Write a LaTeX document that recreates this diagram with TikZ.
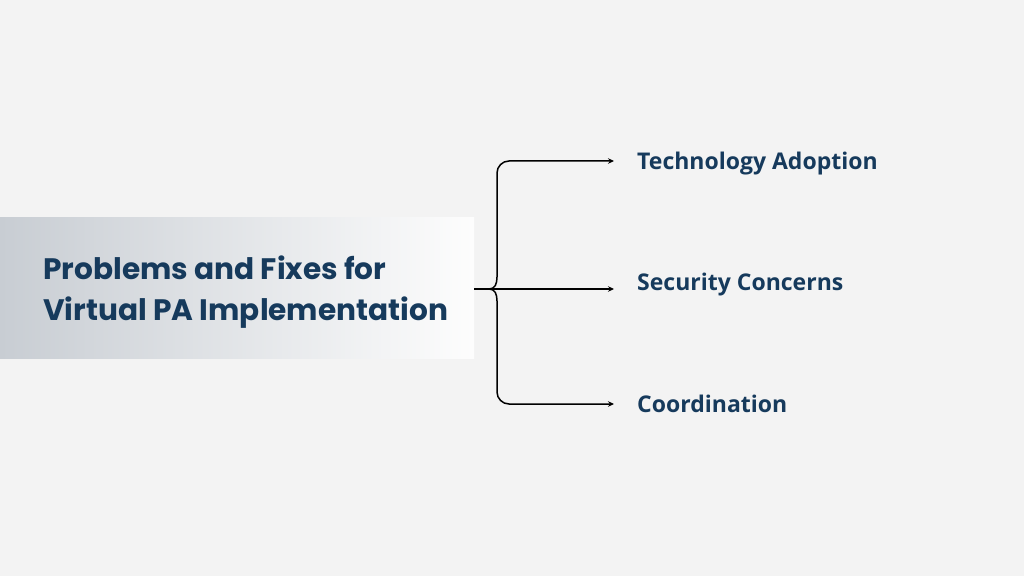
\documentclass[tikz,border=0pt]{standalone}
\usepackage{fontspec}
\setmainfont{Poppins}
\newfontfamily\labelfont{Open Sans}
\usetikzlibrary{arrows.meta}
\definecolor{bg}{HTML}{F3F3F3}
\definecolor{navy}{HTML}{163A5C}
\definecolor{gradL}{HTML}{C8CDD3}
\definecolor{gradR}{HTML}{FDFDFD}
\tikzset{
  title/.style={anchor=west, inner sep=0pt, align=left, text=navy,
    font=\fontsize{29.6}{41}\selectfont\bfseries},
  lbl/.style={anchor=west, inner sep=0pt, text=navy,
    font=\labelfont\fontsize{23}{27}\selectfont\bfseries},
  conn/.style={line width=1.5pt, draw=black},
  arr/.style={conn, -{Stealth[length=6pt,width=5.5pt]}},
}
\begin{document}
\begin{tikzpicture}[x=1pt,y=1pt]
\fill[bg] (0,0) rectangle (1024,576);
\useasboundingbox (0,0) rectangle (1024,576);
\shade[left color=gradL, right color=gradR] (0,218) rectangle (474,358);
\node[title] (t) at (43,284) {Problems and Fixes for\\Virtual PA Implementation};
\node[lbl] (l1) at (637,412) {Technology Adoption};
\node[lbl] (l2) at (637,291) {Security Concerns};
\node[lbl] (l3) at (637,172) {Coordination};
\coordinate (s) at (474,287);
\coordinate (m) at (489,287);
\coordinate (a1) at (614,415);
\coordinate (a2) at (614,287);
\coordinate (a3) at (614,172);
\draw[arr] (s) -- (a2);
\draw[arr] (m) .. controls (495,287) and (497,292) .. (497,299) -- (497,403)
   arc[start angle=180,end angle=90,radius=12] -- (a1);
\draw[arr] (m) .. controls (495,287) and (497,282) .. (497,275) -- (497,184)
   arc[start angle=180,end angle=270,radius=12] -- (a3);
\end{tikzpicture}
\end{document}
